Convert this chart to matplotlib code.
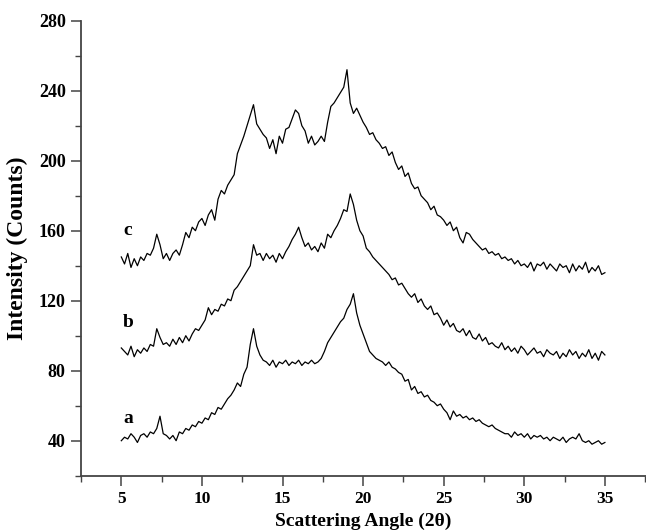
import numpy as np
import matplotlib
matplotlib.use("Agg")
import matplotlib.pyplot as plt
from matplotlib.ticker import MultipleLocator

plt.rcParams['font.family'] = ['Liberation Serif', 'DejaVu Serif']
plt.rcParams['font.weight'] = 'bold'

# scattering angle grid (2theta), 0.2 degree steps from 5 to 35
two_theta = np.round(np.linspace(5.0, 35.0, 151), 1)

curve_a = [
    40, 42, 41, 44, 42,
    39, 43, 44, 42, 45,
    44, 47, 54, 44, 43,
    41, 43, 40, 45, 44,
    47, 46, 49, 48, 51,
    50, 53, 52, 56, 55,
    59, 58, 61, 64, 66,
    69, 73, 71, 78, 82,
    95, 104, 94, 89, 86,
    85, 83, 86, 82, 85,
    84, 86, 83, 85, 84,
    86, 83, 85, 84, 86,
    84, 85, 87, 91, 96,
    99, 102, 105, 108, 110,
    115, 118, 124, 113, 106,
    101, 96, 91, 89, 87,
    86, 85, 83, 85, 82,
    81, 79, 78, 74, 75,
    69, 71, 67, 68, 65,
    66, 63, 62, 60, 61,
    58, 56, 52, 57, 54,
    55, 53, 54, 52, 53,
    51, 52, 50, 49, 48,
    49, 47, 46, 45, 44,
    44, 42, 45, 43, 44,
    42, 44, 41, 43, 42,
    43, 41, 42, 40, 42,
    41, 40, 42, 39, 41,
    42, 41, 44, 40, 39,
    40, 38, 39, 40, 38,
    39,
]

curve_b = [
    93, 91, 89, 94, 88,
    92, 90, 93, 91, 95,
    94, 104, 99, 95, 96,
    94, 98, 95, 99, 96,
    100, 97, 101, 104, 103,
    106, 109, 116, 112, 115,
    114, 118, 117, 121, 120,
    126, 128, 131, 134, 137,
    140, 152, 146, 147, 143,
    147, 144, 146, 142, 147,
    144, 148, 151, 155, 158,
    162, 156, 151, 153, 149,
    151, 148, 153, 150, 158,
    156, 160, 163, 167, 172,
    171, 181, 175, 166, 160,
    157, 150, 148, 145, 143,
    141, 139, 137, 135, 132,
    133, 129, 130, 127, 124,
    122, 124, 119, 121, 117,
    115, 117, 112, 113, 110,
    106, 109, 105, 107, 103,
    102, 104, 100, 103, 99,
    98, 101, 97, 99, 95,
    96, 94, 93, 96, 92,
    94, 91, 93, 90, 94,
    92, 89, 91, 93, 90,
    91, 88, 92, 90, 89,
    91, 87, 90, 88, 92,
    89, 91, 87, 90, 88,
    92, 87, 90, 86, 91,
    89,
]

curve_c = [
    145, 141, 147, 139, 144,
    140, 145, 143, 147, 146,
    150, 158, 152, 144, 147,
    143, 147, 149, 146, 152,
    159, 156, 162, 160, 165,
    167, 163, 169, 172, 166,
    178, 183, 181, 186, 189,
    192, 204, 209, 214, 220,
    226, 232, 221, 218, 215,
    213, 207, 212, 204, 214,
    210, 218, 219, 224, 229,
    227, 220, 217, 210, 214,
    209, 211, 214, 211, 222,
    231, 233, 236, 239, 242,
    252, 233, 227, 230, 226,
    222, 219, 215, 216, 212,
    210, 207, 208, 203, 205,
    199, 195, 197, 191, 193,
    187, 184, 185, 180, 178,
    176, 172, 174, 169, 168,
    166, 163, 165, 160, 162,
    156, 153, 159, 158, 155,
    153, 151, 149, 150, 147,
    148, 146, 147, 144, 145,
    143, 144, 141, 143, 140,
    141, 139, 142, 137, 141,
    140, 142, 138, 141, 139,
    137, 141, 139, 140, 136,
    141, 137, 140, 138, 142,
    136, 139, 137, 140, 135,
    136,
]

curve_names = ['a', 'b', 'c']
label_x = [5.4, 5.4, 5.4]
label_y = [52.6, 107.8, 160.0]

x_ticks = [5, 10, 15, 20, 25, 30, 35]
y_ticks = [40, 80, 120, 160, 200, 240, 280]

fig = plt.figure(figsize=(6.46, 5.32), dpi=100)
ax = fig.add_axes([0.1254, 0.1058, 0.8746, 0.8553])

for ys in (curve_a, curve_b, curve_c):
    ax.plot(two_theta, ys, color='black', linewidth=0.9)

for name, lx, ly in zip(curve_names, label_x, label_y):
    ax.text(lx, ly, name, fontsize=14, fontweight='bold', ha='center', va='center')

ax.set_xlim(2.5, 37.55)
ax.set_ylim(20, 280)
ax.set_xticks(x_ticks)
ax.set_yticks(y_ticks)
ax.xaxis.set_minor_locator(MultipleLocator(2.5))
ax.yaxis.set_minor_locator(MultipleLocator(20))

for s in ('top', 'right'):
    ax.spines[s].set_visible(False)
for s in ('left', 'bottom'):
    ax.spines[s].set_color('#444444')
    ax.spines[s].set_linewidth(1.3)

ax.tick_params(axis='both', which='major', direction='out', length=7, width=1.1,
               color='#444444', pad=4)
ax.tick_params(axis='both', which='minor', direction='out', length=4, width=1.0,
               color='#444444')
ax.tick_params(axis='x', labelsize=12.5)
ax.tick_params(axis='y', labelsize=13)
for lab in ax.get_xticklabels() + ax.get_yticklabels():
    lab.set_fontweight('bold')

ax.set_xlabel('Scattering Angle (2θ)', fontsize=14, fontweight='bold')
ax.xaxis.label.set_va('center')
ax.xaxis.set_label_coords(0.5 * (121 - 80.7) / 565.3 + 0.5 * (605 - 80.7) / 565.3 + 0.0, -0.1)
ax.set_ylabel('Intensity (Counts)', fontsize=17, fontweight='bold', labelpad=8)

fig.savefig('out.png', dpi=100)
